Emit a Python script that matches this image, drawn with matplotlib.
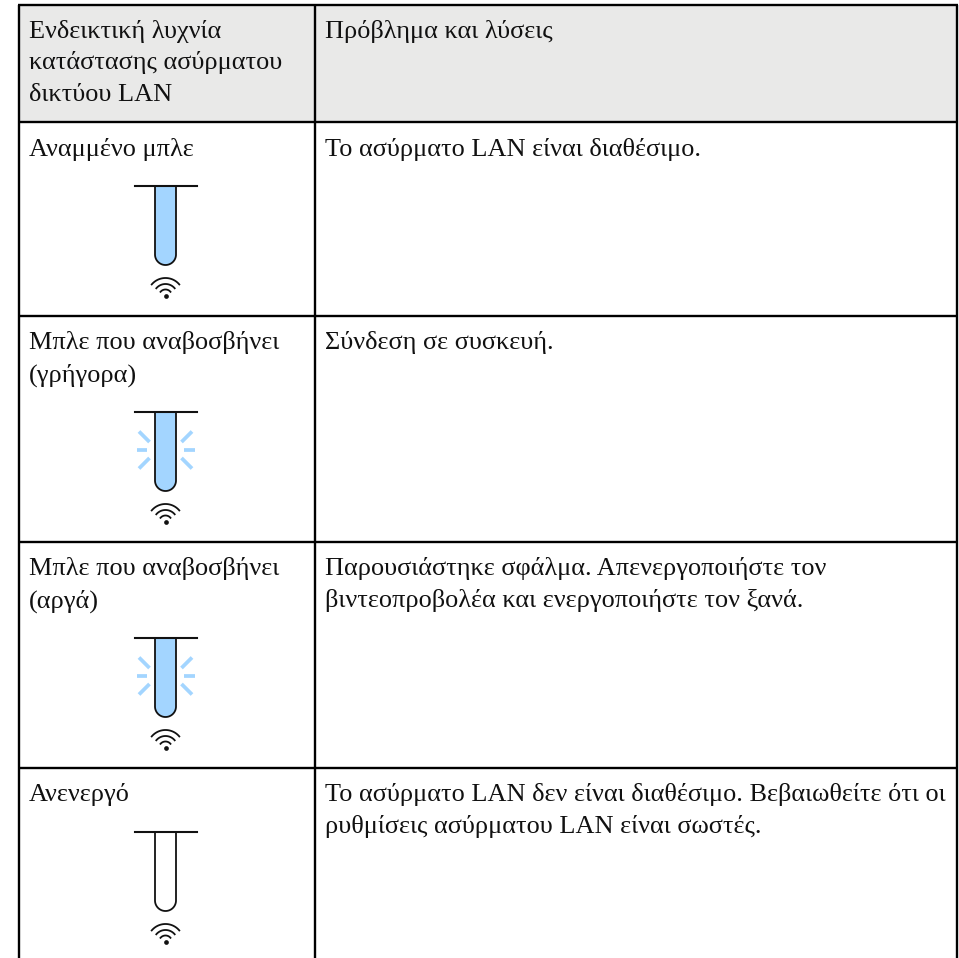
#!/usr/bin/python3

import numpy as np
import matplotlib
matplotlib.use("Agg")
import matplotlib.pyplot as plt
from matplotlib.patches import Rectangle

plt.rcParams['font.family'] = ['Liberation Serif', 'DejaVu Serif']

# table contents
header_left = ["Ενδεικτική λυχνία", "κατάστασης ασύρματου", "δικτύου LAN"]
header_right = ["Πρόβλημα και λύσεις"]
status_labels = [
    ["Αναμμένο μπλε"],
    ["Μπλε που αναβοσβήνει", "(γρήγορα)"],
    ["Μπλε που αναβοσβήνει", "(αργά)"],
    ["Ανενεργό"],
]
solutions = [
    ["Το ασύρματο LAN είναι διαθέσιμο."],
    ["Σύνδεση σε συσκευή."],
    ["Παρουσιάστηκε σφάλμα. Απενεργοποιήστε τον",
     "βιντεοπροβολέα και ενεργοποιήστε τον ξανά."],
    ["Το ασύρματο LAN δεν είναι διαθέσιμο. Βεβαιωθείτε ότι οι",
     "ρυθμίσεις ασύρματου LAN είναι σωστές."],
]
lamp_on = [True, True, True, False]
lamp_flash = [False, True, True, False]

# layout, in image pixels
row_lines = [5, 122, 316, 542, 768]
col_lines = [19, 315, 957]
bottom = 958
lamp_tops = [186, 412, 638, 832]
lamp_x = 165.5
tube_r = 10.5
LINE_H = 31.7
FS = 18.9

BLUE = "#a3d5ff"
INK = "#111111"

fig = plt.figure(figsize=(9.59, 9.58), dpi=100)
ax = fig.add_axes([0, 0, 1, 1])
ax.set_xlim(0, 959)
ax.set_ylim(958, 0)
ax.axis("off")


def write(x, first_baseline, lines):
    for i, s in enumerate(lines):
        ax.text(x, first_baseline + i * LINE_H, s, fontsize=FS, color=INK,
                ha="left", va="baseline")


def draw_lamp(top, on, flash):
    # straight sides plus a round end
    t = np.linspace(np.pi, 0, 40)
    end_y = top + 79 - tube_r
    xs = np.r_[lamp_x - tube_r, lamp_x + tube_r * np.cos(t), lamp_x + tube_r]
    ys = np.r_[top, end_y + tube_r * np.sin(t), top]
    if on:
        ax.fill(xs, ys, color=BLUE, lw=0, zorder=2)
    ax.plot(xs, ys, color=INK, lw=1.3, zorder=3)
    ax.plot([lamp_x - 31, lamp_x + 31], [top, top], color=INK, lw=1.5, zorder=3)
    if flash:
        mid = top + 38
        for side in (-1, 1):
            ax.plot([lamp_x + side * 18.5, lamp_x + side * 29], [mid, mid],
                    color=BLUE, lw=2.7, solid_capstyle="butt", zorder=2)
            for d in (-1, 1):
                ax.plot([lamp_x + side * 16, lamp_x + side * 26.5],
                        [mid + d * 8, mid + d * 18.5],
                        color=BLUE, lw=2.7, solid_capstyle="butt", zorder=2)
    # wireless mark under the lamp
    dot_y = top + 110
    for r, half in ((18, 50), (12, 50), (6.5, 50)):
        a = np.radians(np.linspace(90 - half, 90 + half, 30))
        ax.plot(lamp_x + r * np.cos(a), dot_y - r * np.sin(a), color=INK,
                lw=1.3, zorder=3)
    ax.plot([lamp_x], [dot_y], "o", color=INK, ms=3.4, mew=0, zorder=3)


# header shading
ax.add_patch(Rectangle((col_lines[0], row_lines[0]),
                       col_lines[2] - col_lines[0], row_lines[1] - row_lines[0],
                       fc="#e9e9e8", ec="none", zorder=0))

# grid
for y in row_lines:
    ax.plot([col_lines[0] - 1, col_lines[2] + 1], [y, y], color="black", lw=1.7,
            solid_capstyle="butt", zorder=1)
for x in col_lines:
    ax.plot([x, x], [row_lines[0], bottom], color="black", lw=1.7,
            solid_capstyle="butt", zorder=1)

write(29, 37.5, header_left)
write(325, 37.5, header_right)

for i in range(4):
    base = row_lines[i + 1] + 33.5
    write(29, base, status_labels[i])
    write(325, base, solutions[i])
    draw_lamp(lamp_tops[i], lamp_on[i], lamp_flash[i])

fig.savefig("out.png", dpi=100)
